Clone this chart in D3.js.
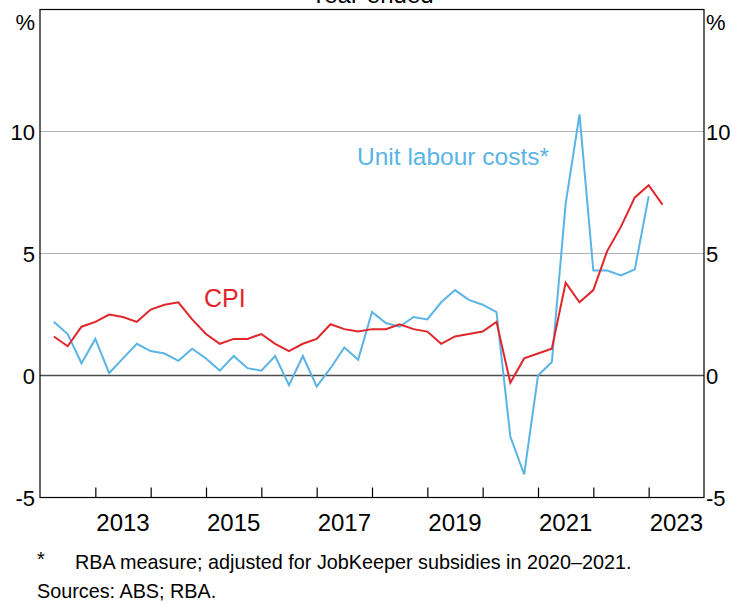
<!DOCTYPE html>
<html>
<head>
<meta charset="utf-8">
<script src="https://cdn.jsdelivr.net/npm/d3@7"></script>
<style>
  body { margin: 0; background: #fff; }
  svg { display: block; font-family: "Liberation Sans", Arial, sans-serif; }
</style>
</head>
<body>
<div class="canvas"></div>
<script>
// quarters, March 2012 to March 2023
const quarters = [];
for (let yr = 2012; yr <= 2023; yr++) {
  for (let q = 1; q <= 4; q++) {
    if (yr === 2023 && q > 1) break;
    quarters.push(yr + "-Q" + q);
  }
}

// year-ended CPI inflation
const cpi = [
  1.6, 1.2, 2.0, 2.2, 2.5, 2.4, 2.2, 2.7, 2.9, 3.0, 2.3, 1.7,
  1.3, 1.5, 1.5, 1.7, 1.3, 1.0, 1.3, 1.5, 2.1, 1.9, 1.8, 1.9,
  1.9, 2.1, 1.9, 1.8, 1.3, 1.6, 1.7, 1.8, 2.2, -0.3, 0.7, 0.9,
  1.1, 3.8, 3.0, 3.5, 5.1, 6.1, 7.3, 7.8, 7.0
];

// unit labour costs (ends Dec 2022)
const ulc = [
  2.2, 1.7, 0.5, 1.5, 0.1, 0.7, 1.3, 1.0, 0.9, 0.6, 1.1, 0.7,
  0.2, 0.8, 0.3, 0.2, 0.8, -0.4, 0.8, -0.45, 0.3, 1.15, 0.65, 2.6,
  2.15, 2.0, 2.4, 2.3, 3.0, 3.5, 3.1, 2.9, 2.6, -2.5, -4.05, 0.0,
  0.55, 7.05, 10.7, 4.3, 4.3, 4.1, 4.35, 7.35
];

const yTicks = [-5, 0, 5, 10];
const yearTicks = d3.range(2013, 2024);
const yearLabels = [2013, 2015, 2017, 2019, 2021, 2023];

const W = 731, H = 604;
const m = { left: 40, right: 704, top: 9.5, bottom: 497.5 };

const svg = d3.select(".canvas")
  .append("svg")
  .attr("width", W)
  .attr("height", H);

const x = d3.scaleLinear().domain([2012, 2024]).range([m.left, m.right]);
const y = d3.scaleLinear().domain([-5, 15]).range([m.bottom, m.top]);

// quarter label -> decimal year at the quarter end
function qx(label) {
  const yr = +label.slice(0, 4);
  const q = +label.slice(6);
  return yr + q * 0.25;
}

const red = "#e0262b";
const blue = "#5ab4e5";

// gridlines
svg.append("g")
  .selectAll("line")
  .data(yTicks.filter(d => d > 0))
  .join("line")
  .attr("x1", m.left)
  .attr("x2", m.right)
  .attr("y1", d => y(d))
  .attr("y2", d => y(d))
  .attr("stroke", "#b3b3b3")
  .attr("stroke-width", 1);

// zero line
svg.append("line")
  .attr("x1", m.left)
  .attr("x2", m.right)
  .attr("y1", y(0))
  .attr("y2", y(0))
  .attr("stroke", "#4d4d4d")
  .attr("stroke-width", 1.6);

// year ticks pointing up from the bottom axis
const xAxis = d3.axisBottom(x)
  .tickValues(yearTicks)
  .tickSize(-10)
  .tickFormat("");
svg.append("g")
  .attr("transform", `translate(0,${m.bottom})`)
  .call(xAxis)
  .call(g => g.select(".domain").remove())
  .call(g => g.selectAll("line").attr("stroke", "#000").attr("stroke-width", 1.2));

// year labels, centred within each year
svg.append("g")
  .selectAll("text")
  .data(yearLabels)
  .join("text")
  .attr("x", d => x(d + 0.5))
  .attr("y", 531)
  .attr("text-anchor", "middle")
  .style("font-size", "24px")
  .text(d => d);

// y labels both sides
const yLab = svg.append("g").style("font-size", "22px");
yLab.selectAll("text.l")
  .data(yTicks)
  .join("text")
  .attr("class", "l")
  .attr("x", 35)
  .attr("y", d => y(d) + 8)
  .attr("text-anchor", "end")
  .text(d => d);
yLab.selectAll("text.r")
  .data(yTicks)
  .join("text")
  .attr("class", "r")
  .attr("x", 706)
  .attr("y", d => y(d) + 8)
  .attr("text-anchor", "start")
  .text(d => d);
yLab.append("text").attr("x", 35).attr("y", 30).attr("text-anchor", "end").text("%");
yLab.append("text").attr("x", 706).attr("y", 30).attr("text-anchor", "start").text("%");

// lines
const line = d3.line()
  .x(d => x(qx(d[0])))
  .y(d => y(d[1]));

svg.append("path")
  .datum(d3.zip(quarters, ulc))
  .attr("fill", "none")
  .attr("stroke", blue)
  .attr("stroke-width", 2)
  .attr("d", line);

svg.append("path")
  .datum(d3.zip(quarters, cpi))
  .attr("fill", "none")
  .attr("stroke", red)
  .attr("stroke-width", 2)
  .attr("d", line);

// frame
svg.append("rect")
  .attr("x", m.left)
  .attr("y", m.top)
  .attr("width", m.right - m.left)
  .attr("height", m.bottom - m.top)
  .attr("fill", "none")
  .attr("stroke", "#000")
  .attr("stroke-width", 1.2);

// series labels
svg.append("text")
  .attr("x", 204)
  .attr("y", 307)
  .attr("fill", red)
  .style("font-size", "25px")
  .text("CPI");
svg.append("text")
  .attr("x", 357)
  .attr("y", 165)
  .attr("fill", blue)
  .style("font-size", "24.5px")
  .text("Unit labour costs*");

// title (mostly cut off at the top)
svg.append("text")
  .attr("x", 372)
  .attr("y", 3)
  .attr("text-anchor", "middle")
  .style("font-size", "24px")
  .text("Year-ended");

// notes
svg.append("text")
  .attr("x", 37)
  .attr("y", 566)
  .style("font-size", "19.8px")
  .text("*");
svg.append("text")
  .attr("x", 75)
  .attr("y", 569)
  .style("font-size", "19.8px")
  .text("RBA measure; adjusted for JobKeeper subsidies in 2020–2021.");
svg.append("text")
  .attr("x", 37)
  .attr("y", 598)
  .style("font-size", "19.8px")
  .text("Sources: ABS; RBA.");
</script>
</body>
</html>
